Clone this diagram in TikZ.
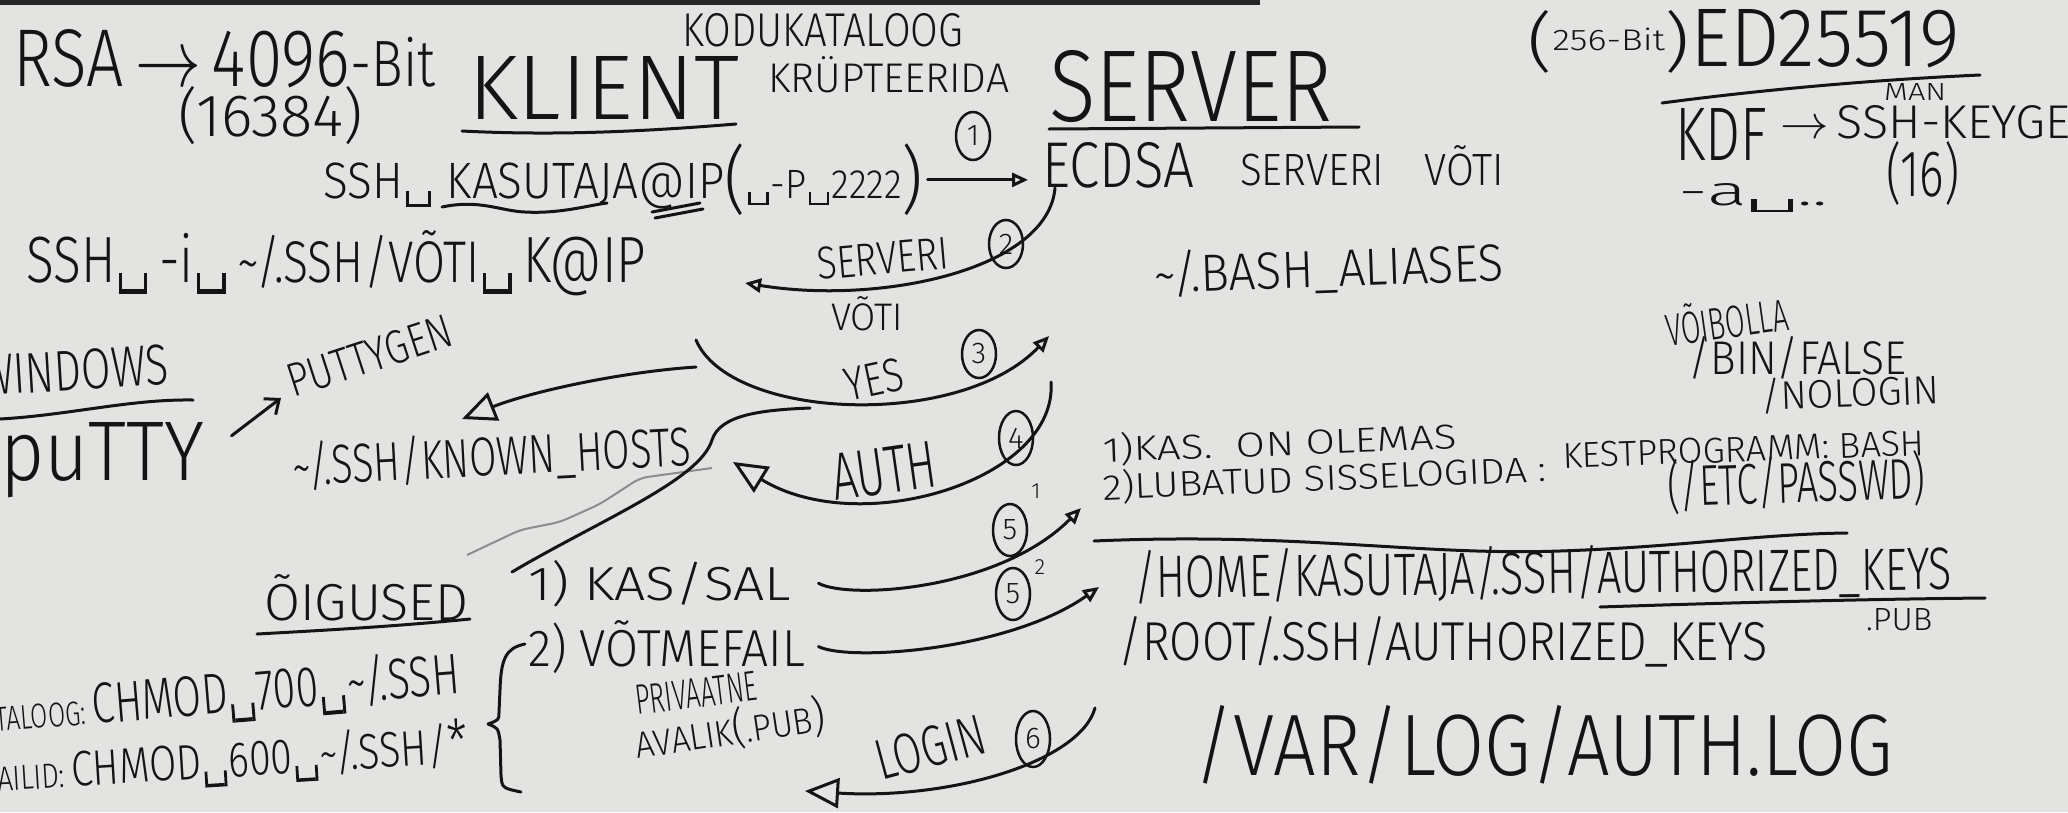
\documentclass[tikz,border=0pt]{standalone}
\usepackage{fontspec}
\usepackage{graphicx}
\newfontfamily\handfont{Fira Sans}[UprightFont=* Light]
\usetikzlibrary{arrows.meta}
\usetikzlibrary{shapes.geometric}
\definecolor{board}{RGB}{227,227,225}
\definecolor{ink}{RGB}{20,20,20}
\tikzset{
    hand/.style={anchor=base west, inner sep=0pt, text=ink, font=\handfont},
    marker/.style={draw=ink, line width=3pt, line cap=round, line join=round},
    ring/.style={draw=ink, ellipse, line width=2.5pt, inner sep=0pt,
        minimum width=34pt, minimum height=48pt, text=ink,
        font=\handfont\fontsize{30}{30}\selectfont},
    smalltip/.style={-{Triangle[open, length=16pt, width=14pt]}},
    bigtip/.style={-{Triangle[open, length=34pt, width=30pt]}},
    vtip/.style={-{Straight Barb[length=12pt, width=20pt]}}
}
\newcommand{\vsp}{\kern.06em\raisebox{-.18em}{\vrule width .07em height .32em depth 0pt\vrule width .42em height .07em depth 0pt\vrule width .07em height .32em depth 0pt}\kern.06em}
\newcommand{\scrawl}[7] {
	\node[hand, rotate=#6] (#1) at (#2,#3) {\resizebox{#4pt}{#5pt}{#7}};
}

\begin{document}
\begin{tikzpicture}[x=1pt, y=-1pt]
		\fill[board] (0,0) rectangle (2068,812);
		\useasboundingbox (0,0) rectangle (2068,812);
		\fill[black!85] (0,0) rectangle (1260,5);

		% key types
		\scrawl{rsa}{13}{86}{422}{57}{0}{RSA\,$\rightarrow$\,4096{\footnotesize-Bit}}
		\scrawl{bits16k}{178}{136}{185}{50}{0}{(16384)}
		\scrawl{bits256}{1527}{64}{163}{54}{0}{{\LARGE(}\raisebox{.35em}{\footnotesize 256-Bit}{\LARGE)}}
		\scrawl{edkey}{1690}{66}{270}{57}{0}{ED25519}
		\draw[marker] (1662,103) .. controls (1760,90) and (1870,80) .. (1980,75);
		\scrawl{manpage}{1884}{100}{62}{17}{0}{MAN}
		\scrawl{kdf}{1675}{160}{92}{52}{0}{KDF}
		\scrawl{keygen}{1780}{138}{323}{33}{0}{$\rightarrow$\,SSH-KEYGEN}
		\scrawl{fopt}{1678}{205}{150}{22}{0}{-a\vsp..}
		\scrawl{rounds}{1886}{196}{73}{55}{0}{(16)}

		% headings
		\scrawl{homedir}{682}{46}{281}{33}{0}{KODUKATALOOG}
		\scrawl{client}{468}{119}{271}{63}{0}{KLIENT}
		\draw[marker] (462,131) .. controls (560,136) and (650,131) .. (736,124);
		\scrawl{encrypt}{768}{92}{241}{36}{0}{KRÜPTEERIDA}
		\scrawl{server}{1049}{121}{283}{71}{0}{SERVER}
		\draw[marker] (1049,129) -- (1359,127);

		% commands
		\scrawl{sshcmd}{323}{198}{600}{54}{0}{SSH\vsp\ KASUTAJA@IP\raisebox{-.15em}{\Large(}{\footnotesize\vsp-P\vsp 2222}\raisebox{-.15em}{\Large)}}
		\draw[marker] (442,207) .. controls (480,199) and (500,211) .. (525,212) .. controls (560,214) and (590,205) .. (607,203);
		\draw[marker] (652,212) -- (700,203);
		\draw[marker] (655,218) -- (703,209);
		\scrawl{ecdsa}{1042}{187}{152}{45}{0}{ECDSA}
		\scrawl{hostkey}{1240}{185}{264}{40}{0}{SERVERI\quad VÕTI}
		\scrawl{sshid}{26}{282}{620}{52}{0}{SSH\vsp\,-i\vsp\,{\small\textasciitilde/.SSH/VÕTI}\vsp\,K@IP}
		\scrawl{aliases}{1154}{293}{350}{42}{2}{\textasciitilde/.BASH\_ALIASES}

		% handshake
		\node[ring] (step1) at (973,136) {1};
		\draw[marker, smalltip, shorten <=4pt, shorten >=14pt] (sshcmd.east) -- (sshcmd.east -| ecdsa.west);
		\node[ring] (step2) at (1006,244) {2};
		\coordinate (keyback) at (745,283);
		\draw[marker, smalltip] ([xshift=13pt]ecdsa.south west) .. controls (1048,270) and (880,305) .. (keyback);
		\scrawl{keylabel}{818}{280}{132}{32}{5}{SERVERI}
		\scrawl{keyword}{831}{330}{72}{34}{0}{VÕTI}

		\node[ring] (step3) at (979,354) {3};
		\coordinate (yesfrom) at (696,340);
		\coordinate (yesto) at (1049,336);
		\draw[marker, smalltip] (yesfrom) .. controls (730,420) and (960,430) .. (yesto);
		\scrawl{yes}{848}{402}{59}{33}{12}{YES}
		\coordinate (hostsfrom) at (696,367);
		\coordinate (hostsin) at (462,419);
		\draw[marker, bigtip] (hostsfrom) .. controls (620,372) and (530,392) .. (hostsin);
		\scrawl{knownhosts}{293}{486}{399}{44}{3}{\textasciitilde/.SSH/KNOWN\_HOSTS}

		\node[ring, minimum height=54pt] (step4) at (1016,438) {4};
		\coordinate (authfrom) at (1051,382);
		\coordinate (authto) at (733,462);
		\draw[marker, bigtip] (authfrom) .. controls (1058,480) and (860,540) .. (authto);
		\scrawl{auth}{835}{501}{105}{46}{8}{AUTH}
		\draw[draw=black!45, line width=2pt, rounded corners=8pt] (467,555) -- (520,530) -- (560,522) -- (600,504) -- (640,478) -- (712,468);
		\draw[marker] (512,572) .. controls (600,520) and (700,480) .. (712,440) .. controls (720,415) and (760,410) .. (810,408);

		% windows
		\scrawl{windows}{-20}{396}{190}{40}{3.5}{WINDOWS}
		\draw[marker] (0,419) .. controls (70,415) and (130,399) .. (193,400);
		\scrawl{putty}{0}{480}{204}{58}{0}{puTTY}
		\scrawl{puttygen}{293}{398}{171}{33}{18}{PUTTYGEN}
		\draw[marker, vtip] ([shift={(27,14)}]putty.north east) -- ([shift={(-12,0)}]puttygen.base west);

		% permissions
		\scrawl{rights}{264}{620}{204}{46}{0}{ÕIGUSED}
		\draw[marker] (257,634) .. controls (330,630) and (400,626) .. (470,619);
		\scrawl{dirperm}{-30}{734}{492}{46}{4.7}{{\fontsize{6}{7}\selectfont KATALOOG:}\,CHMOD\vsp700\vsp\textasciitilde/.SSH}
		\scrawl{fileperm}{-14}{792}{484}{44}{3.5}{{\scriptsize FAILID:}\,CHMOD\vsp600\vsp\textasciitilde/.SSH/{\large*}}
		\draw[marker] (525,644) .. controls (505,648) and (501,660) .. (500,690) -- (499,712) .. controls (499,720) .. (488,724) .. controls (498,728) .. (500,740) -- (501,775) .. controls (502,788) .. (521,792);
		\scrawl{kassal}{528}{600}{263}{40}{0}{1)\ KAS/SAL}
		\scrawl{keyfile}{528}{666}{277}{46}{0}{2)\ VÕTMEFAIL}
		\scrawl{private}{637}{715}{122}{29}{7}{PRIVAATNE}
		\scrawl{public}{637}{759}{192}{37}{8.5}{AVALIK{\large(}.PUB{\large)}}

		\node[ring, minimum height=52pt] (step5a) at (1010,530) {5};
		\node[hand, anchor=center, font=\handfont\fontsize{22}{22}\selectfont] (sup1) at (1036,491) {1};
		\coordinate (userok) at (1081,508);
		\draw[marker, smalltip] ([xshift=27pt]kassal.east) .. controls (850,600) and (1000,590) .. (userok);
		\node[ring, minimum height=52pt] (step5b) at (1013,594) {5};
		\node[hand, anchor=center, font=\handfont\fontsize{22}{22}\selectfont] (sup2) at (1040,567) {2};
		\coordinate (keyok) at (1099,587);
		\draw[marker, smalltip] ([xshift=13pt]keyfile.east) .. controls (850,662) and (1010,650) .. (keyok);

		\node[ring, minimum height=56pt] (step6) at (1033,739) {6};
		\coordinate (loginfrom) at (1095,708);
		\coordinate (loginto) at (805,791);
		\draw[marker, bigtip] (loginfrom) .. controls (1080,762) and (950,800) .. (loginto);
		\scrawl{login}{881}{781}{112}{40}{15}{LOGIN}

		% server side checks
		\scrawl{maybe}{1668}{347}{123}{40}{8}{VÕIBOLLA}
		\scrawl{binfalse}{1688}{374}{218}{38}{0}{/BIN/FALSE}
		\scrawl{nologin}{1761}{410}{178}{32}{2}{/NOLOGIN}
		\scrawl{exists}{1103}{462}{354}{29}{2.1}{1)KAS.\ \ ON OLEMAS}
		\scrawl{lubatud}{1103}{500}{444}{30}{2.4}{2)LUBATUD SISSELOGIDA :}
		\scrawl{shellprog}{1563}{468}{362}{25}{2}{KESTPROGRAMM: BASH}
		\scrawl{passwd}{1668}{507}{258}{48}{2}{(/ETC/PASSWD)}
		\draw[marker] (1094,541) .. controls (1300,532) and (1420,556) .. (1560,551) .. controls (1680,547) and (1760,534) .. (1847,533);
		\scrawl{userkeys}{1134}{598}{818}{48}{0.6}{/HOME/KASUTAJA/.SSH/AUTHORIZED\_KEYS}
		\draw[marker] (1600,607) .. controls (1750,602) and (1880,599) .. (1985,598);
		\scrawl{pubext}{1866}{630}{66}{22}{0}{.PUB}
		\scrawl{rootkeys}{1118}{660}{649}{44}{0}{/ROOT/.SSH/AUTHORIZED\_KEYS}
		\scrawl{authlog}{1194}{775}{699}{70}{0}{/VAR/LOG/AUTH.LOG}
\end{tikzpicture}
\end{document}
